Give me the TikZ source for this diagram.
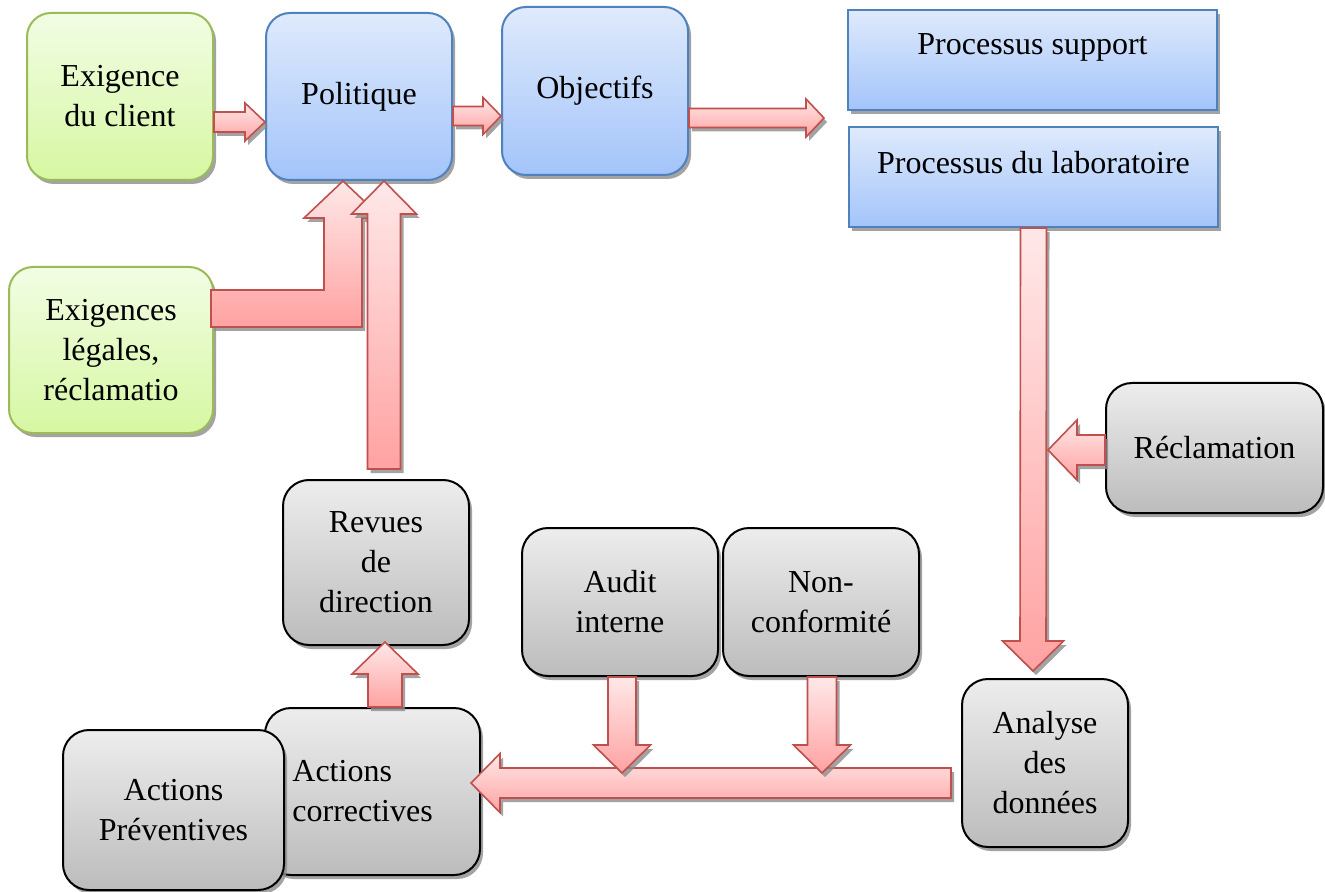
\documentclass[tikz,border=0pt]{standalone}
\usepackage{fontspec}
\setmainfont{Liberation Serif}
\usetikzlibrary{calc,shadows}
\definecolor{grnB}{HTML}{9BBB59}
\definecolor{grnT}{RGB}{242,253,228}
\definecolor{grnL}{RGB}{214,247,162}
\definecolor{bluB}{HTML}{4F81BD}
\definecolor{bluT}{RGB}{223,234,252}
\definecolor{bluL}{RGB}{163,196,250}
\definecolor{gryT}{RGB}{237,237,237}
\definecolor{gryL}{RGB}{188,188,188}
\definecolor{redB}{HTML}{C0504D}
\definecolor{redT}{RGB}{255,232,232}
\definecolor{redL}{RGB}{255,162,162}
\tikzset{
  shad/.style={drop shadow={shadow xshift=1.5pt,shadow yshift=-2pt,fill=black!45,opacity=0.8}},
  basebox/.style={shad, line width=1pt, align=center, font=\fontsize{16}{20}\selectfont, inner sep=2pt},
  greenbox/.style={basebox, draw=grnB, top color=grnT, bottom color=grnL, rounded corners=12pt},
  bluebox/.style={basebox, draw=bluB, top color=bluT, bottom color=bluL, rounded corners=12pt},
  procbox/.style={basebox, draw=bluB, top color=bluT, bottom color=bluL},
  graybox/.style={basebox, draw=black, top color=gryT, bottom color=gryL, rounded corners=13pt},
  blockarrow/.style={shad, draw=redB, line width=0.8pt, top color=redT, bottom color=redL, line join=miter},
  every label/.style={font=\fontsize{16}{20}\selectfont, inner sep=0pt}
}
\newcommand\hblock[5]{\path[blockarrow] ($#1+(0,-#3)$) -- ($#2+(#5,-#3)$) -- ($#2+(#5,-#4)$) -- #2 -- ($#2+(#5,#4)$) -- ($#2+(#5,#3)$) -- ($#1+(0,#3)$) -- cycle;}
\newcommand\vblock[5]{\path[blockarrow] ($#1+(-#3,0)$) -- ($#2+(-#3,#5)$) -- ($#2+(-#4,#5)$) -- #2 -- ($#2+(#4,#5)$) -- ($#2+(#3,#5)$) -- ($#1+(#3,0)$) -- cycle;}
\begin{document}
\begin{tikzpicture}[x=0.5pt,y=-0.5pt]
\useasboundingbox (0,0) rectangle (1325,892);
% boxes
\node[greenbox, minimum width=93pt, minimum height=83.5pt] (exig) at (120,96.5) {Exigence\\du client};
\node[bluebox, minimum width=93pt, minimum height=83.5pt] (pol) at (359,96.5) {Politique};
\node[bluebox, minimum width=93pt, minimum height=84pt] (obj) at (595,91) {Objectifs};
\node[procbox, minimum width=184.5pt, minimum height=50pt, label={[yshift=6.5pt]center:Processus support}] (psup) at (1032.5,60) {};
\node[procbox, minimum width=184.5pt, minimum height=50pt, label={[yshift=7pt]center:Processus du laboratoire}] (plab) at (1033.5,177) {};
\node[greenbox, minimum width=102pt, minimum height=83pt] (exleg) at (111,350) {Exigences\\légales,\\réclamatio};
\node[graybox, minimum width=108.5pt, minimum height=65pt] (recl) at (1214.5,448) {Réclamation};
\node[graybox, minimum width=93pt, minimum height=82.5pt] (rev) at (376,562.5) {Revues\\de\\direction};
\node[graybox, minimum width=98pt, minimum height=74pt] (audit) at (620,602) {Audit\\interne};
\node[graybox, minimum width=98pt, minimum height=74pt] (nonc) at (821,602) {Non-\\conformité};
\node[graybox, minimum width=83pt, minimum height=84pt] (anal) at (1045,763) {Analyse\\des\\données};
\node[graybox, minimum width=107.5pt, minimum height=83.5pt, label={[anchor=west, align=left, xshift=14pt]west:{Actions\\correctives}}] (acor) at (372.5,791.5) {};
\node[graybox, minimum width=110.5pt, minimum height=80pt] (aprev) at (173.5,810) {Actions\\Préventives};
% connector coordinates
\coordinate (a1s) at (exig.east |- 0,122);
\coordinate (a1e) at (pol.west |- 0,122);
\coordinate (a2s) at (pol.east |- 0,116);
\coordinate (a2e) at (obj.west |- 0,116);
\coordinate (a3s) at (obj.east |- 0,118);
\coordinate (a3p) at (psup.west |- 0,118);
\coordinate (a3e) at ($(a3p)+(-23,0)$);
\coordinate (a4s) at (exleg.east |- 0,308.5);
\coordinate (a4e) at ($(pol.south)+(-16,0)$);
\coordinate (a5s) at ($(rev.north)+(8,-10)$);
\coordinate (a5e) at ($(pol.south)+(25,0)$);
\coordinate (a6s) at ($(acor.north)+(12.5,0)$);
\coordinate (a6e) at ($(rev.south)+(9,-4)$);
\coordinate (a7e) at ($(anal.north)+(-12,-7)$);
\coordinate (a8s) at (recl.west |- 0,450);
\coordinate (a8e) at ($(a8s)+(-57,0)$);
\coordinate (a9s) at ($(anal.west)+(-10,20)$);
\coordinate (a9e) at ($(acor.east)+(-10,-8.5)$);
\coordinate (a10s) at ($(audit.south)+(2,0)$);
\coordinate (a10e) at ($(a10s)+(0,96)$);
\coordinate (a11s) at ($(nonc.south)+(1,0)$);
\coordinate (a11e) at ($(a11s)+(0,96)$);
% block arrows
\hblock{(a1s)}{(a1e)}{10}{19}{-20}
\hblock{(a2s)}{(a2e)}{9.5}{18.5}{-18}
\hblock{(a3s)}{(a3e)}{9.5}{19}{-18}
\path[blockarrow] ([xshift=-1.5pt]a4s) ++(0,-18.5) -| ($(a4e)+(-19,37)$) -- ++(-20,0) -- (a4e) -- ++(39,37) -- ++(-20,0) |- ($(a4s)+(-3,18.5)$) -- cycle;
\vblock{(a5s)}{(a5e)}{16.5}{32.5}{33}
\vblock{(a6s)}{(a6e)}{17}{33}{32}
\vblock{(plab.south)}{(a7e)}{13}{30.5}{-30}
\hblock{(a8s)}{(a8e)}{15}{30}{29}
\hblock{(a9s)}{(a9e)}{15}{29.5}{29}
\vblock{(a10s)}{(a10e)}{14}{28.5}{-28}
\vblock{(a11s)}{(a11e)}{14.5}{28.5}{-28}
\end{tikzpicture}
\end{document}
